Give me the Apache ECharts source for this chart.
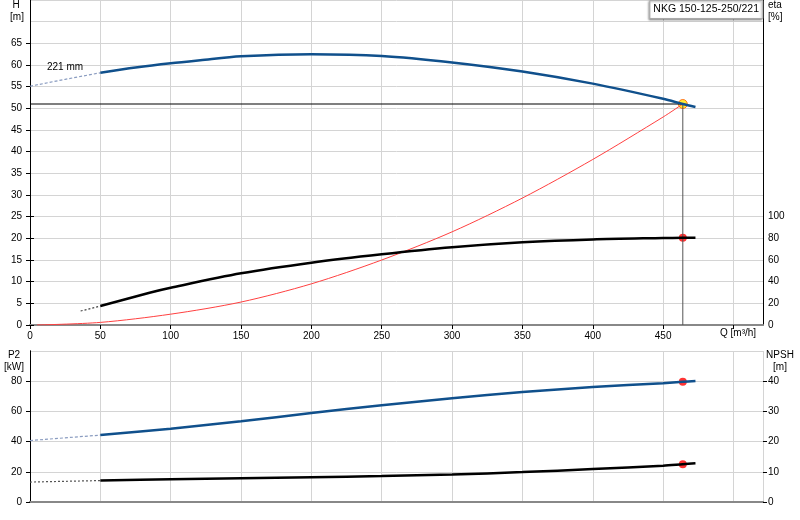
<!DOCTYPE html>
<html>
<head>
<meta charset="utf-8">
<script src="https://cdn.jsdelivr.net/npm/echarts@6/dist/echarts.min.js"></script>
<style>
  html, body { margin: 0; padding: 0; background: #fff; }
  #chart { width: 800px; height: 520px; }
</style>
</head>
<body>
<div id="chart"></div>
<script>
// pump curve data
const qAxisMax = 521;
const qTicks = [0, 50, 100, 150, 200, 250, 300, 350, 400, 450];

// head H [m]
const qHeadExt = [0, 25, 50];
const headExt = [55.1, 56.7, 58.2];
const qHead = [50, 75, 100, 121, 150, 200, 250, 300, 350, 400, 450, 464, 473];
const head = [58.2, 59.4, 60.4, 61.1, 62.0, 62.5, 62.1, 60.6, 58.5, 55.7, 52.2, 51.0, 50.3];

// system curve (red)
const qSys = [5, 50, 100, 150, 200, 250, 300, 350, 400, 450, 464];
const headSys = [0, 0.6, 2.5, 5.3, 9.5, 15.0, 21.5, 29.3, 38.2, 48.0, 51.0];

// efficiency eta [%]
const qEtaExt = [36, 50];
const etaExt = [12.9, 17.5];
const qEta = [50, 85, 100, 150, 200, 250, 300, 350, 400, 450, 464, 473];
const eta = [17.5, 29.8, 34.4, 47.7, 57.5, 65.2, 71.7, 76.3, 79.0, 80.3, 80.6, 80.6];

// power P2 [kW]
const qP2Ext = [0, 50];
const p2Ext = [40.7, 44.3];
const qP2 = [50, 100, 150, 200, 250, 300, 350, 400, 450, 464, 473];
const p2 = [44.3, 48.5, 53.5, 58.9, 64.1, 68.7, 72.8, 76.1, 78.7, 79.6, 80.2];

// NPSH [m]
const qNpshExt = [0, 50];
const npshExt = [6.6, 7.1];
const qNpsh = [50, 100, 150, 200, 250, 300, 350, 400, 450, 464, 473];
const npsh = [7.1, 7.5, 7.85, 8.2, 8.6, 9.1, 9.9, 10.9, 12.0, 12.5, 12.8];

// duty point
const qDuty = 464;
const hDuty = 51.0;
const etaDuty = 80.6;
const p2Duty = 79.6;
const npshDuty = 12.5;

const zip = (xs, ys) => xs.map((x, i) => [x, ys[i]]);

const FONT = "Liberation Sans, Arial, sans-serif";
const BLUE = "#10508c";
const GRID_LINE = "#d4d4d4";
const txt = { color: "#000", fontSize: 10, fontFamily: FONT };
const gtxt = { fill: "#000", fontSize: 10, fontFamily: FONT };

const hiddenX = (gridIndex) => ({
  gridIndex, type: "value", min: 0, max: qAxisMax, show: false,
});

const chart = echarts.init(document.getElementById("chart"));

const option = {
  animation: false,
  backgroundColor: "#fff",
  title: {
    text: "NKG 150-125-250/221",
    right: 37,
    top: 0,
    padding: [4, 4, 4, 4],
    borderColor: "#aaa",
    borderWidth: 1,
    backgroundColor: "#fff",
    shadowColor: "rgba(0,0,0,0.35)",
    shadowBlur: 2,
    shadowOffsetX: -1,
    shadowOffsetY: 1,
    textStyle: { color: "#000", fontSize: 10.5, fontWeight: "normal", fontFamily: FONT },
  },
  grid: [
    { left: 30, right: 37, top: 0, height: 325 },          // top frame
    { left: 30, right: 37, top: 43.3, height: 281.7 },     // H labels (0..65)
    { left: 30, right: 37, top: 216.7, height: 108.3 },    // eta labels (0..100)
    { left: 30, right: 37, top: 351, height: 151 },        // bottom frame
    { left: 30, right: 37, top: 381.2, height: 120.8 },    // P2 / NPSH labels
  ],
  xAxis: [
    {
      gridIndex: 0, type: "value", min: 0, max: qAxisMax, interval: 50,
      axisLine: { lineStyle: { color: "#888", width: 2 } },
      axisTick: { show: true, length: 4, lineStyle: { color: "#000" } },
      axisLabel: {
        ...txt, margin: 6, showMaxLabel: false,
        formatter: (v) => (qTicks.includes(v) ? String(v) : ""),
      },
      splitLine: { show: true, lineStyle: { color: GRID_LINE } },
    },
    hiddenX(1),
    hiddenX(2),
    {
      gridIndex: 3, type: "value", min: 0, max: qAxisMax, interval: 50,
      axisLine: { lineStyle: { color: "#888", width: 2 } },
      axisTick: { show: false },
      axisLabel: { show: false },
      splitLine: { show: true, lineStyle: { color: GRID_LINE } },
    },
    {
      gridIndex: 3, type: "value", position: "top", min: 0, max: qAxisMax, interval: 50,
      axisLine: { lineStyle: { color: "#888", width: 2 } },
      axisTick: { show: false },
      axisLabel: { show: false },
      splitLine: { show: false },
    },
    hiddenX(4),
  ],
  yAxis: [
    {
      gridIndex: 0, type: "value", min: 0, max: 75, interval: 5,
      axisLine: { show: true, lineStyle: { color: "#000" } },
      axisTick: { show: false }, axisLabel: { show: false },
      splitLine: { show: true, lineStyle: { color: GRID_LINE } },
    },
    {
      gridIndex: 0, type: "value", position: "right", min: 0, max: 300,
      axisLine: { show: true, lineStyle: { color: "#000" } },
      axisTick: { show: false }, axisLabel: { show: false },
      splitLine: { show: false },
    },
    {
      gridIndex: 1, type: "value", min: 0, max: 65, interval: 5,
      axisLine: { show: false },
      axisTick: { show: true, length: 4, lineStyle: { color: "#000" } },
      axisLabel: { ...txt, margin: 8 },
      splitLine: { show: false },
    },
    {
      gridIndex: 2, type: "value", position: "right", min: 0, max: 100, interval: 20,
      axisLine: { show: false },
      axisTick: { show: true, length: 4, lineStyle: { color: "#000" } },
      axisLabel: { ...txt, margin: 5 },
      splitLine: { show: false },
    },
    {
      gridIndex: 3, type: "value", min: 0, max: 100, interval: 20,
      axisLine: { show: true, lineStyle: { color: "#000" } },
      axisTick: { show: false }, axisLabel: { show: false },
      splitLine: { show: true, lineStyle: { color: GRID_LINE } },
    },
    {
      gridIndex: 3, type: "value", position: "right", min: 0, max: 50,
      axisLine: { show: true, lineStyle: { color: "#000" } },
      axisTick: { show: false }, axisLabel: { show: false },
      splitLine: { show: false },
    },
    {
      gridIndex: 4, type: "value", min: 0, max: 80, interval: 20,
      axisLine: { show: false },
      axisTick: { show: true, length: 4, lineStyle: { color: "#000" } },
      axisLabel: { ...txt, margin: 8 },
      splitLine: { show: false },
    },
    {
      gridIndex: 4, type: "value", position: "right", min: 0, max: 40, interval: 10,
      axisLine: { show: false },
      axisTick: { show: true, length: 4, lineStyle: { color: "#000" } },
      axisLabel: { ...txt, margin: 5 },
      splitLine: { show: false },
    },
  ],
  series: [
    // duty point guide lines
    {
      type: "line", xAxisIndex: 0, yAxisIndex: 0, symbol: "none",
      data: [[0, hDuty], [qDuty, hDuty]],
      lineStyle: { color: "#000", width: 1.2 },
    },
    {
      type: "line", xAxisIndex: 0, yAxisIndex: 0, symbol: "none",
      data: [[qDuty, 0], [qDuty, hDuty]],
      lineStyle: { color: "#555", width: 1 },
    },
    // system curve
    {
      type: "line", xAxisIndex: 0, yAxisIndex: 0, symbol: "none", smooth: 0.3,
      data: zip(qSys, headSys),
      lineStyle: { color: "#ff4040", width: 1 },
    },
    // head
    {
      type: "line", xAxisIndex: 0, yAxisIndex: 0, symbol: "none",
      data: zip(qHeadExt, headExt),
      lineStyle: { color: "#8a9cc0", width: 1.2, type: [3, 2] },
    },
    {
      type: "line", xAxisIndex: 0, yAxisIndex: 0, symbol: "none", smooth: 0.3,
      data: zip(qHead, head),
      lineStyle: { color: BLUE, width: 2.5 },
    },
    // efficiency
    {
      type: "line", xAxisIndex: 0, yAxisIndex: 1, symbol: "none",
      data: zip(qEtaExt, etaExt),
      lineStyle: { color: "#444", width: 1.2, type: [2, 2] },
    },
    {
      type: "line", xAxisIndex: 0, yAxisIndex: 1, symbol: "none", smooth: 0.3,
      data: zip(qEta, eta),
      lineStyle: { color: "#000", width: 2.5 },
    },
    // power
    {
      type: "line", xAxisIndex: 3, yAxisIndex: 4, symbol: "none",
      data: zip(qP2Ext, p2Ext),
      lineStyle: { color: "#8a9cc0", width: 1.2, type: [3, 2] },
    },
    {
      type: "line", xAxisIndex: 3, yAxisIndex: 4, symbol: "none", smooth: 0.3,
      data: zip(qP2, p2),
      lineStyle: { color: BLUE, width: 2.5 },
    },
    // NPSH
    {
      type: "line", xAxisIndex: 3, yAxisIndex: 5, symbol: "none",
      data: zip(qNpshExt, npshExt),
      lineStyle: { color: "#555", width: 1.2, type: [2, 2] },
    },
    {
      type: "line", xAxisIndex: 3, yAxisIndex: 5, symbol: "none", smooth: 0.3,
      data: zip(qNpsh, npsh),
      lineStyle: { color: "#000", width: 2.5 },
    },
    // duty point markers
    {
      type: "scatter", xAxisIndex: 0, yAxisIndex: 0, symbolSize: 9,
      data: [[qDuty, hDuty]],
      itemStyle: { color: "#ffe600", borderColor: "#ff5a00", borderWidth: 1 },
    },
    {
      type: "scatter", xAxisIndex: 0, yAxisIndex: 1, symbolSize: 8,
      data: [[qDuty, etaDuty]], itemStyle: { color: "#ff0000" },
    },
    {
      type: "scatter", xAxisIndex: 3, yAxisIndex: 4, symbolSize: 8,
      data: [[qDuty, p2Duty]], itemStyle: { color: "#ff0000" },
    },
    {
      type: "scatter", xAxisIndex: 3, yAxisIndex: 5, symbolSize: 8,
      data: [[qDuty, npshDuty]], itemStyle: { color: "#ff0000" },
    },
  ],
  graphic: [
    { type: "text", x: 16, y: 0, z: 100, style: { text: "H", ...gtxt, align: "center", verticalAlign: "top" } },
    { type: "text", x: 17, y: 12, z: 100, style: { text: "[m]", ...gtxt, align: "center", verticalAlign: "top" } },
    { type: "text", x: 768, y: 0, z: 100, style: { text: "eta", ...gtxt, verticalAlign: "top" } },
    { type: "text", x: 768, y: 12, z: 100, style: { text: "[%]", ...gtxt, verticalAlign: "top" } },
    { type: "text", x: 47, y: 62, z: 100, style: { text: "221 mm", ...gtxt, verticalAlign: "top" } },
    { type: "text", x: 720, y: 328, z: 100, style: { text: "Q [m³/h]", ...gtxt, verticalAlign: "top" } },
    { type: "text", x: 14, y: 350, z: 100, style: { text: "P2", ...gtxt, align: "center", verticalAlign: "top" } },
    { type: "text", x: 14, y: 362, z: 100, style: { text: "[kW]", ...gtxt, align: "center", verticalAlign: "top" } },
    { type: "text", x: 780, y: 350, z: 100, style: { text: "NPSH", ...gtxt, align: "center", verticalAlign: "top" } },
    { type: "text", x: 780, y: 362, z: 100, style: { text: "[m]", ...gtxt, align: "center", verticalAlign: "top" } },
  ],
};

chart.setOption(option);
</script>
</body>
</html>
